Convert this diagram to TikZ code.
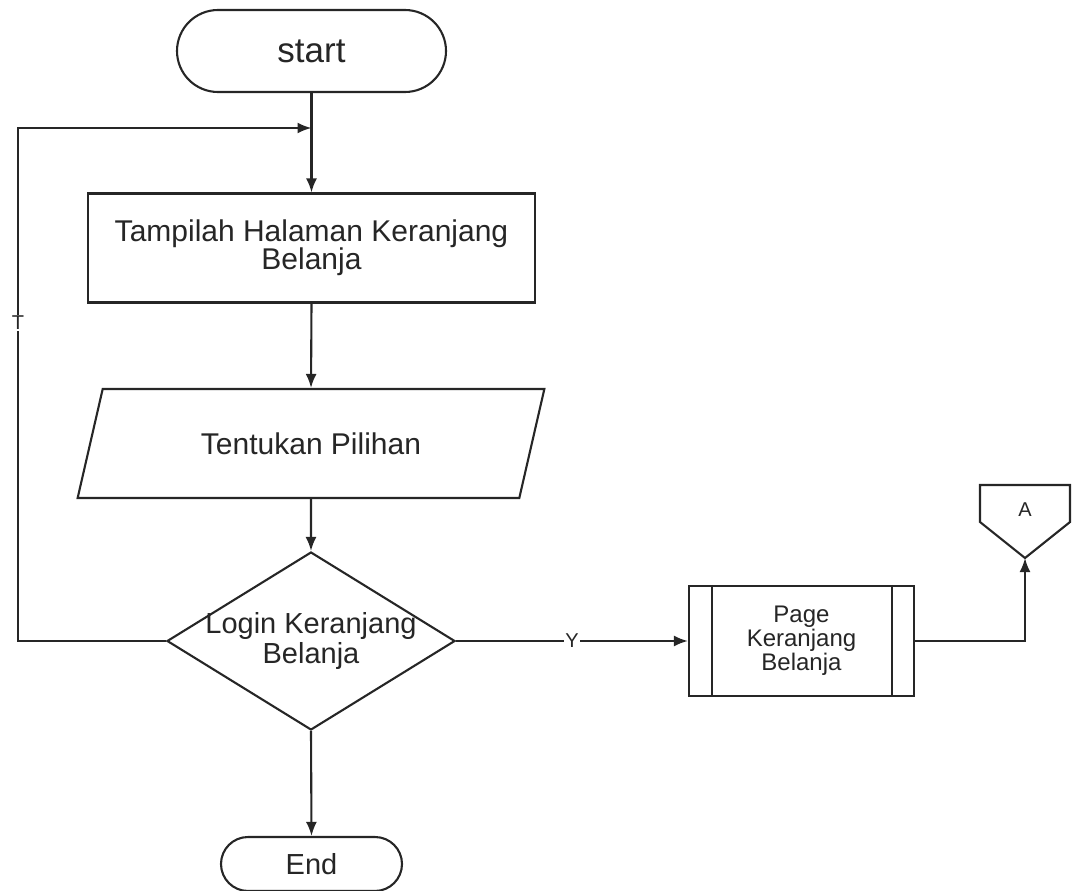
\documentclass[tikz,border=0pt]{standalone}
\usepackage{fontspec}
\setmainfont{Liberation Sans}
\usetikzlibrary{shapes.geometric,shapes.misc,arrows.meta}

\begin{document}
\begin{tikzpicture}[x=1pt,y=-1pt,
  ink/.style={draw=black!85, line width=2.1pt},
  flow/.style={ink, -{Latex[length=14pt,width=11pt]}},
  line/.style={ink},
  box/.style={ink, fill=white, text=black!85, align=center, inner sep=0pt},
  terminal/.style={box, rounded rectangle},
  procbox/.style={box, rectangle},
  iobox/.style={box, trapezium, trapezium left angle=59, trapezium right angle=121,
    trapezium stretches=true},
  decision/.style={box, diamond},
  predef/.style={box, rectangle},
  tag/.style={fill=white, text=black!85, inner sep=1.5pt, font=\fontsize{20}{21}\selectfont},
  bigtext/.style={font=\fontsize{30}{28}\selectfont},
]
\useasboundingbox (0,0) rectangle (1072,891);

% terminals
\node[terminal, minimum width=269, minimum height=82, font=\fontsize{35}{36}\selectfont]
  (start) at (311.5,51) {start};
\node[terminal, minimum width=181, minimum height=54, font=\fontsize{29}{30}\selectfont]
  (end) at (311.5,864) {End};

% process and input
\node[procbox, minimum width=447, minimum height=109, bigtext]
  (show) at (311.5,248) {Tampilah Halaman Keranjang\\Belanja};
\node[iobox, minimum width=468, minimum height=109, font=\fontsize{30}{30}\selectfont]
  (choose) at (311,443.5) {Tentukan Pilihan};

% decision with its text set on top
\node[decision, minimum width=288, minimum height=178] (login) at (311,641) {};
\node[text=black!85, align=center, font=\fontsize{29}{30}\selectfont]
  (logintext) at (311,641) {Login Keranjang\\Belanja};

% predefined process
\node[predef, minimum width=225, minimum height=110, font=\fontsize{24}{24}\selectfont]
  (page) at (801.5,641) {Page\\Keranjang\\Belanja};
\draw[line] ([xshift=24pt]page.north west) -- ([xshift=24pt]page.south west);
\draw[line] ([xshift=-23pt]page.north east) -- ([xshift=-23pt]page.south east);

% off-page connector A
\coordinate (Atip) at (1025,558);
\draw[line, fill=white] (980,485) -- (1070,485) -- (1070,522) -- (Atip) -- (980,522) -- cycle;
\node[text=black!85, font=\fontsize{20}{21}\selectfont] (A) at (1025,510) {A};

% loop junction
\coordinate (join) at (311.5,128);
\coordinate (loopbot) at (18,641);

% connectors
\draw[flow] (start.south) -- (show.north);
\draw[flow] (show.south) -- (choose.north);
\draw[flow] (choose.south) -- (login.north);
\draw[flow] (login.south) -- (end.north);
\draw[flow] (login.west) -- (loopbot) |- (join)
  node[tag, pos=0.31] (tlab) {T};
\draw[flow] (login.east) -- (page.west)
  node[tag, pos=0.5] (ylab) {Y};
\draw[flow] (page.east) -| (Atip);
\end{tikzpicture}
\end{document}
